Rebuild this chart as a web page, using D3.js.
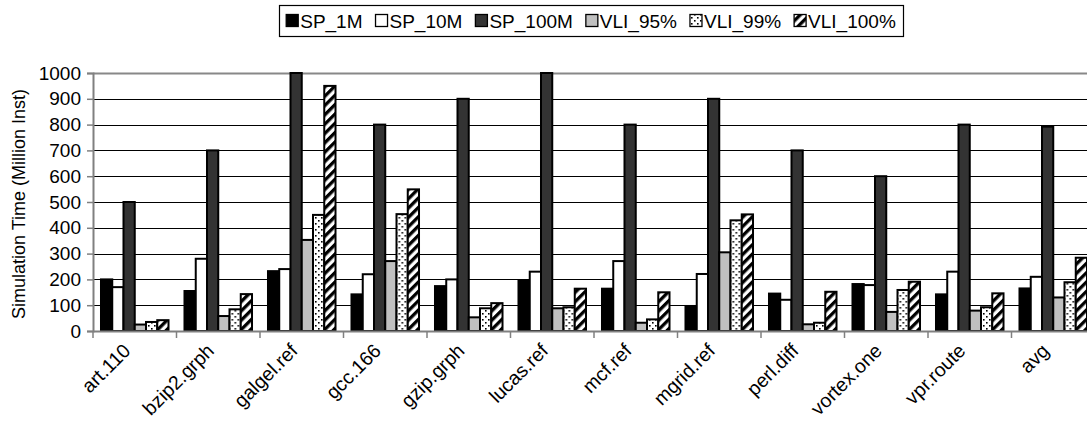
<!DOCTYPE html>
<html>
<head>
<meta charset="utf-8">
<script src="https://cdn.jsdelivr.net/npm/d3@7"></script>
<style>
  html, body { margin: 0; padding: 0; background: #fff; }
  svg { display: block; font-family: "Liberation Sans", Arial, sans-serif; }
</style>
</head>
<body>
<svg id="chart" width="1087" height="425"></svg>
<script>
const categories = ["art.110","bzip2.grph","galgel.ref","gcc.166","gzip.grph","lucas.ref","mcf.ref","mgrid.ref","perl.diff","vortex.one","vpr.route","avg"];
const seriesNames = ["SP_1M","SP_10M","SP_100M","VLI_95%","VLI_99%","VLI_100%"];
const sp1M   = [200,155,232,142,174,194,164, 97,145,182,142,165];
const sp10M  = [170,280,240,220,200,230,271,221,121,178,230,210];
const sp100M = [500,700,1000,800,900,1000,800,900,700,600,800,792];
const vli95  = [ 25, 58,353,271, 53, 88, 32,305, 26, 74, 79,130];
const vli99  = [ 35, 84,450,453, 88, 92, 45,429, 32,159, 92,189];
const vli100 = [ 42,143,950,549,108,164,150,452,152,191,146,284];
const yTicks = [0,100,200,300,400,500,600,700,800,900,1000];
const yTitle = "Simulation Time (Million Inst)";

const seriesValues = [sp1M, sp10M, sp100M, vli95, vli99, vli100];
const fills = ["#000000","#ffffff","#333333","#c0c0c0","url(#dots)","url(#stripes)"];

const svg = d3.select("#chart");
const defs = svg.append("defs");
const dots = defs.append("pattern").attr("id","dots").attr("patternUnits","userSpaceOnUse")
  .attr("width",6).attr("height",6);
dots.append("rect").attr("width",6).attr("height",6).attr("fill","#fff");
dots.append("rect").attr("x",1).attr("y",1).attr("width",1.6).attr("height",1.6).attr("fill","#000");
dots.append("rect").attr("x",4).attr("y",4).attr("width",1.6).attr("height",1.6).attr("fill","#000");
const stripes = defs.append("pattern").attr("id","stripes").attr("patternUnits","userSpaceOnUse")
  .attr("width",6.6).attr("height",6.6).attr("patternTransform","rotate(45)");
stripes.append("rect").attr("width",6.6).attr("height",6.6).attr("fill","#fff");
stripes.append("rect").attr("width",3.3).attr("height",6.6).attr("fill","#000");

const pLeft = 93, pRight = 1095, pTop = 73, pBottom = 331;
const x0 = d3.scaleBand().domain(categories).range([pLeft, pRight]).padding(0);
const x1 = d3.scaleBand().domain(seriesNames).range([0, x0.bandwidth()]).paddingInner(0).paddingOuter(0.71);
const y = d3.scaleLinear().domain([0, 1000]).range([pBottom, pTop]);

// gridlines
svg.append("g").selectAll("line").data(yTicks.filter(d => d > 0)).join("line")
  .attr("x1", pLeft).attr("x2", pRight)
  .attr("y1", d => Math.round(y(d)) + 0.5).attr("y2", d => Math.round(y(d)) + 0.5)
  .attr("stroke", d => d === 1000 ? "#888" : "#000").attr("stroke-width", d => d === 1000 ? 2 : 1);

// bars
const groups = svg.append("g").selectAll("g").data(categories).join("g")
  .attr("transform", c => `translate(${x0(c)},0)`);
groups.selectAll("rect").data((c, i) => seriesNames.map((s, j) => ({s, j, v: seriesValues[j][i]})))
  .join("rect")
  .attr("x", d => x1(d.s)).attr("width", x1.bandwidth())
  .attr("y", d => y(d.v)).attr("height", d => y(0) - y(d.v))
  .attr("fill", d => fills[d.j]).attr("stroke", "#000").attr("stroke-width", 2);

// y axis
const yAxis = d3.axisLeft(y).tickValues(yTicks).tickSize(6).tickPadding(6).tickFormat(d3.format("d"));
const gy = svg.append("g").attr("transform", `translate(${pLeft},0)`).call(yAxis);
gy.select(".domain").attr("stroke", "#808080").attr("stroke-width", 2);
gy.selectAll(".tick line").attr("stroke", "#808080").attr("stroke-width", 1.5);
gy.selectAll(".tick text").attr("font-size", 19).attr("fill", "#000").attr("font-family", "Liberation Sans, Arial, sans-serif");

// x axis
const xAxis = d3.axisBottom(x0).tickSize(0).tickFormat("");
const gx = svg.append("g").attr("transform", `translate(0,${pBottom})`).call(xAxis);
gx.select(".domain").attr("stroke", "#808080").attr("stroke-width", 2);
gx.selectAll(".tick").remove();
gx.selectAll(".btick").data(categories.concat(["_end"])).join("line")
  .attr("x1", (c, i) => pLeft + i * x0.step()).attr("x2", (c, i) => pLeft + i * x0.step())
  .attr("y1", 0).attr("y2", 7).attr("stroke", "#808080").attr("stroke-width", 1.5);
gx.selectAll(".lbl").data(categories).join("text")
  .attr("text-anchor", "end").attr("font-size", 19.5).attr("fill", "#000")
  .attr("transform", c => `translate(${x0(c) + x0.bandwidth() / 2 - 3},${21}) rotate(-45)`)
  .text(c => c);

// y title
svg.append("text").attr("transform", `translate(25,${(pTop + pBottom) / 2 + 2}) rotate(-90)`)
  .attr("text-anchor", "middle").attr("font-size", 18).text(yTitle);

// legend
const lg = svg.append("g");
const lgBox = lg.append("rect").attr("fill", "#fff").attr("stroke", "#000").attr("stroke-width", 1.2);
const items = lg.selectAll("g").data(seriesNames).join("g");
items.append("rect").attr("width", 12).attr("height", 12).attr("y", -13.5)
  .attr("fill", (d, i) => fills[i]).attr("stroke", "#000").attr("stroke-width", 1.3);
items.append("text").attr("x", 14).attr("y", 0).attr("font-size", 19).text(d => d);
let xpos = 0;
const offsets = [];
items.each(function () {
  offsets.push(xpos);
  xpos += 14 + this.querySelector("text").getComputedTextLength() + 13;
});
const lgW = xpos - 13;
const lgLeft = (279 + 903) / 2 - lgW / 2;
items.attr("transform", (d, i) => `translate(${lgLeft + offsets[i]},28)`);
lgBox.attr("x", 279.5).attr("y", 5.5).attr("width", 624).attr("height", 31);
</script>
</body>
</html>
